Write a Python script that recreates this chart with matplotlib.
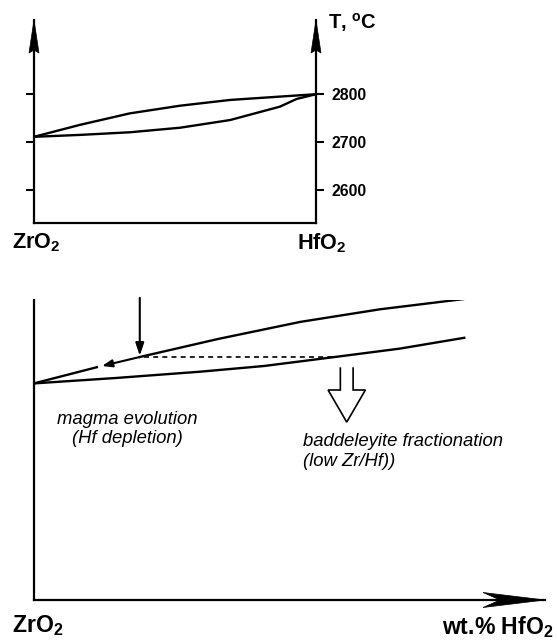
import numpy as np
import matplotlib
matplotlib.use("Agg")
import matplotlib.pyplot as plt
from matplotlib.patches import Polygon
from matplotlib import transforms as mtransforms

plt.rcParams['font.family'] = ['Liberation Sans', 'DejaVu Sans']
plt.rcParams['mathtext.fontset'] = 'custom'
plt.rcParams['mathtext.rm'] = 'Liberation Sans'
plt.rcParams['mathtext.bf'] = 'Liberation Sans:bold'
plt.rcParams['mathtext.it'] = 'Liberation Sans:italic'

# top panel: ZrO2 - HfO2 melting loop (wt.% HfO2 vs T in deg C)
liq_pct = [0, 16.3, 34.0, 51.8, 69.5, 87.2, 100]
liq_T = [2711, 2736, 2760, 2776, 2788, 2795, 2800]
sol_pct = [0, 16.3, 34.0, 51.8, 69.5, 87.2, 93.1, 100]
sol_T = [2711, 2715, 2720.5, 2730, 2746, 2774, 2790, 2800]
T_ticks = [2600, 2700, 2800]

# bottom panel: schematic, arbitrary units
liq_x = [0, 12.3, 20.7, 36.0, 52.1, 67.7, 84.0]
liq_y = [72.2, 77.6, 81.0, 87.0, 92.7, 96.9, 100.3]
sol_x = [0, 16.0, 32.5, 45.0, 57.5, 71.6, 84.2]
sol_y = [72.2, 74.0, 76.1, 78.0, 80.7, 83.8, 87.4]

W, H = 557, 641
fig = plt.figure(figsize=(W/100, H/100), dpi=100)

def px(x, y):
    # pixel position -> figure fraction
    return x/W, 1 - y/H

def arrowhead(ax, tip, direction, length, half, notch):
    # filled arrow head, sizes in pixels, tip in axes fraction
    ux, uy = direction
    vx, vy = -uy, ux
    pts = [(0, 0),
           (-length*ux + half*vx, -length*uy + half*vy),
           (-(length-notch)*ux, -(length-notch)*uy),
           (-length*ux - half*vx, -length*uy - half*vy)]
    pts = [(a/100, b/100) for a, b in pts]
    tr = fig.dpi_scale_trans + mtransforms.ScaledTranslation(tip[0], tip[1], ax.transAxes)
    ax.add_patch(Polygon(pts, closed=True, transform=tr, fc='k', ec='k', lw=0.5, clip_on=False))

# ---------------- top panel
ax1 = fig.add_axes([34/W, 1-223/H, 282/W, 203/H])
ax1.plot(liq_pct, liq_T, color='k', lw=1.7, solid_capstyle='round')
ax1.plot(sol_pct, sol_T, color='k', lw=1.7, solid_capstyle='round')
ax1.set_xlim(0, 100)
ax1.set_ylim(2531, 2955)
ax1.set_xticks([])
ax1.set_yticks(T_ticks)
ax1.tick_params(axis='y', left=True, right=True, labelleft=False, labelright=True,
                direction='out', length=5.8, width=1.5, pad=5, labelsize=11.4)
for lab in ax1.get_yticklabels():
    lab.set_fontweight('bold')
ax1.spines['top'].set_visible(False)
for s in ['left', 'right', 'bottom']:
    ax1.spines[s].set_linewidth(1.6)
arrowhead(ax1, (0, 1), (0, 1), 33, 5, 3)
arrowhead(ax1, (1, 1), (0, 1), 33, 5, 3)

fig.text(*px(12, 248), r'ZrO$_\mathbf{2}$', fontsize=15.6, fontweight='bold', va='baseline')
fig.text(*px(297, 249), r'HfO$_\mathbf{2}$', fontsize=15.6, fontweight='bold', va='baseline')
fig.text(*px(328, 29), r'T, $^\mathbf{o}$C', fontsize=14.5, fontweight='bold', va='baseline')

# ---------------- bottom panel
ax2 = fig.add_axes([34/W, 1-600/H, 511/W, 300/H])
ax2.set_xlim(0, 100)
ax2.set_ylim(0, 100)
ax2.set_xticks([])
ax2.set_yticks([])
ax2.spines['top'].set_visible(False)
ax2.spines['right'].set_visible(False)
for s in ['left', 'bottom']:
    ax2.spines[s].set_linewidth(1.6)
arrowhead(ax2, (1, 0), (1, 0), 62, 7.5, 17)

ax2.plot(liq_x[:2], liq_y[:2], color='k', lw=1.7)
ax2.plot(liq_x[2:], liq_y[2:], color='k', lw=1.7)
ax2.plot(sol_x, sol_y, color='k', lw=1.7)

# isothermal tie line from liquidus to solidus
x_end = np.interp(liq_y[2], sol_y, sol_x)
ax2.plot([liq_x[2] + 0.8, x_end], [liq_y[2], liq_y[2]], color='k', lw=1.2,
         ls=(0, (3, 2.5)))

# vertical arrow onto liquidus
ax2.annotate('', xy=(liq_x[2], liq_y[2] + 0.4), xytext=(liq_x[2], 100.7),
             arrowprops=dict(arrowstyle='-|>,head_length=0.75,head_width=0.25',
                             mutation_scale=10, lw=1.5, color='k',
                             shrinkA=0, shrinkB=0))
# magma evolution arrow along liquidus
tip_x = 13.3
ax2.annotate('', xy=(tip_x, np.interp(tip_x, liq_x, liq_y)), xytext=(liq_x[2], liq_y[2]),
             arrowprops=dict(arrowstyle='-|>,head_length=0.6,head_width=0.22',
                             mutation_scale=10, lw=1.5, color='k',
                             shrinkA=0, shrinkB=0))

# hollow arrow (baddeleyite fractionation)
cx = 61.2
hx = [cx-1.25, cx-1.25, cx-3.65, cx, cx+3.65, cx+1.25, cx+1.25]
hy = [77.3, 70.0, 70.0, 59.3, 70.0, 70.0, 77.3]
ax2.plot(hx, hy, color='k', lw=1.2, solid_joinstyle='miter')

ax2.text(18.2, 57.0, 'magma evolution\n(Hf depletion)', ha='center', va='center',
         fontsize=13.3, style='italic', linespacing=1.2)
ax2.text(52.6, 49.5, 'baddeleyite fractionation\n(low Zr/Hf))', ha='left', va='center',
         fontsize=13.3, style='italic', linespacing=1.2)

fig.text(*px(12, 632), r'ZrO$_\mathbf{2}$', fontsize=16.6, fontweight='bold', va='baseline')
fig.text(*px(442, 634), r'wt.% HfO$_\mathbf{2}$', fontsize=16.6, fontweight='bold', va='baseline')

fig.savefig('out.png', dpi=100)
